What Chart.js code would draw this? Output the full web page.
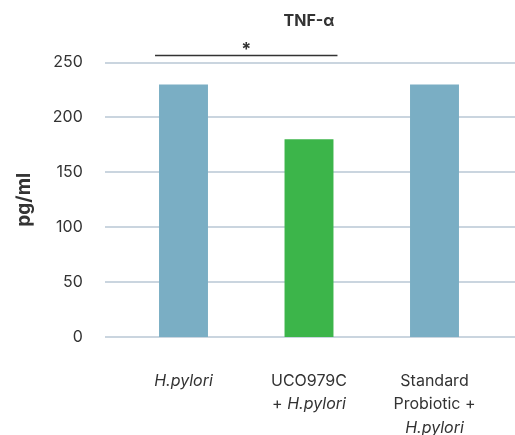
<!DOCTYPE html>
<html>
<head>
<meta charset="utf-8">
<script src="https://cdn.jsdelivr.net/npm/chart.js@4"></script>
<style>
  html, body { margin: 0; padding: 0; background: #fff; }
  #wrap { width: 515px; height: 435px; }
</style>
</head>
<body>
<div id="wrap"><canvas id="c" width="515" height="435"></canvas></div>
<script>
// ---- data ----
const chartTitle = 'TNF-α';
const categories = ['H.pylori', 'UCO979C + H.pylori', 'Standard Probiotic + H.pylori'];
const categoryLines = [['H.pylori'], ['UCO979C', '+ H.pylori'], ['Standard', 'Probiotic +', 'H.pylori']];
const values = [230, 180, 230];
const yTicks = [0, 50, 100, 150, 200, 250];
const significance = [{ from: 0, to: 1, label: '*' }];
const italicTerm = 'H.pylori';

const FONT = 'Inter, "Noto Sans", sans-serif';
const TEXT = '#333333';

const gridPlugin = {
  id: 'gridPlugin',
  beforeDatasetsDraw(chart) {
    const ctx = chart.ctx;
    const y = chart.scales.y;
    ctx.save();
    ctx.strokeStyle = '#cad5df';
    ctx.lineWidth = 2;
    yTicks.forEach(v => {
      const py = Math.round(y.getPixelForValue(v));
      ctx.beginPath();
      ctx.moveTo(105, py);
      ctx.lineTo(chart.width, py);
      ctx.stroke();
    });
    ctx.restore();
  }
};

const labelPlugin = {
  id: 'labelPlugin',
  afterDraw(chart) {
    const ctx = chart.ctx;
    const x = chart.scales.x;
    const area = chart.chartArea;
    const base = area.bottom;
    const normal = '16px ' + FONT;
    const italic = 'italic 16px ' + FONT;
    ctx.save();

    // title, centred over the plot area
    ctx.fillStyle = TEXT;
    ctx.font = 'bold 16px ' + FONT;
    ctx.textAlign = 'center';
    ctx.textBaseline = 'middle';
    ctx.fillText(chartTitle, (area.left + area.right) / 2, 21);

    ctx.textBaseline = 'alphabetic';
    ctx.textAlign = 'left';
    categoryLines.forEach((lines, i) => {
      const cx = x.getPixelForValue(i);
      lines.forEach((line, j) => {
        const parts = line.split(italicTerm);
        const segs = [];
        parts.forEach((p, k) => {
          if (p) segs.push({ t: p, f: normal });
          if (k < parts.length - 1) segs.push({ t: italicTerm, f: italic });
        });
        let w = 0;
        segs.forEach(s => { ctx.font = s.f; s.w = ctx.measureText(s.t).width; w += s.w; });
        let px = cx - w / 2;
        const py = base + 49 + j * 23.3;
        segs.forEach(s => { ctx.font = s.f; ctx.fillText(s.t, px, py); px += s.w; });
      });
    });

    // significance bracket
    const meta = chart.getDatasetMeta(0);
    significance.forEach(s => {
      const b1 = meta.data[s.from], b2 = meta.data[s.to];
      const x1 = b1.x - b1.width / 2 - 4;
      const x2 = b2.x + b2.width / 2 + 4;
      const ly = area.top - 7;
      ctx.strokeStyle = '#333';
      ctx.lineWidth = 1.5;
      ctx.beginPath();
      ctx.moveTo(x1, ly);
      ctx.lineTo(x2, ly);
      ctx.stroke();
      ctx.font = 'bold 18px ' + FONT;
      ctx.textAlign = 'center';
      ctx.textBaseline = 'middle';
      ctx.fillText(s.label, (x1 + x2) / 2, ly - 6);
    });
    ctx.restore();
  }
};

new Chart(document.getElementById('c'), {
  type: 'bar',
  data: {
    labels: categories,
    datasets: [{
      data: values,
      backgroundColor: ['#7aaec4', '#3cb54a', '#7aaec4'],
      borderWidth: 0,
      categoryPercentage: 1,
      barPercentage: 0.39
    }]
  },
  options: {
    responsive: false,
    animation: false,
    devicePixelRatio: 1,
    layout: { padding: { left: 0, right: 17.75, top: 62.5, bottom: 0 } },
    plugins: {
      legend: { display: false },
      tooltip: { enabled: false },
      title: { display: false }
    },
    scales: {
      x: {
        grid: { display: false },
        border: { display: false },
        ticks: { display: false },
        afterFit(scale) { scale.height = 98; }
      },
      y: {
        min: 0,
        max: 250,
        afterBuildTicks(scale) { scale.ticks = yTicks.map(v => ({ value: v })); },
        grid: { display: false, drawTicks: false },
        border: { display: false },
        ticks: {
          color: TEXT,
          padding: 38,
          font: { family: FONT, size: 16 }
        },
        title: {
          display: true,
          text: 'pg/ml',
          color: TEXT,
          font: { family: FONT, size: 19, weight: 'bold', lineHeight: 1.2 },
          padding: { top: 12.6, bottom: 0 }
        },
        afterFit(scale) { scale.width = 120.75; }
      }
    }
  },
  plugins: [gridPlugin, labelPlugin]
});
</script>
</body>
</html>
